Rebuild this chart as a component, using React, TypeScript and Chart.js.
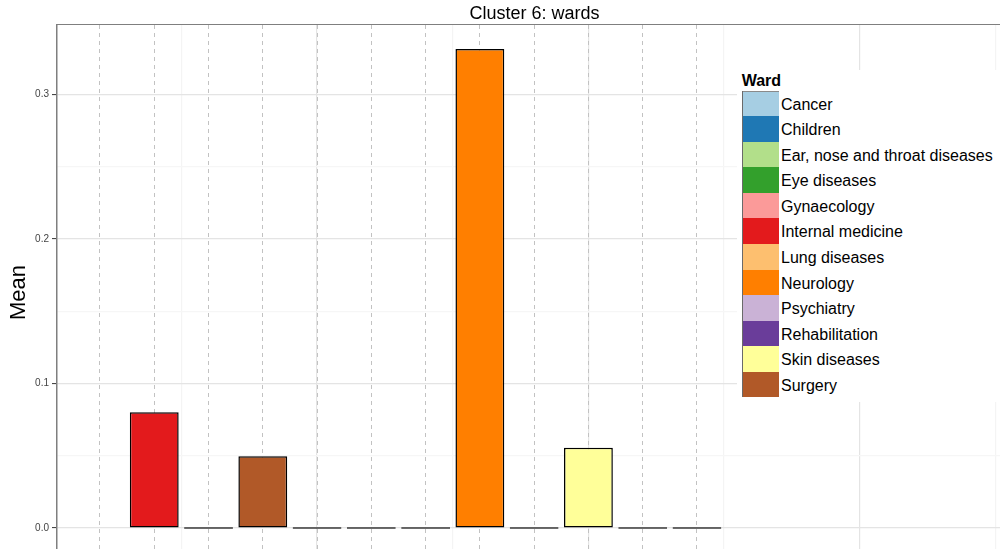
import React, { useEffect, useRef } from "react";
import { Chart, registerables } from "chart.js";

Chart.register(...registerables);

const chartTitle = "Cluster 6: wards";
const yAxisTitle = "Mean";
const legendTitle = "Ward";

const wards = [
  "Cancer",
  "Children",
  "Ear, nose and throat diseases",
  "Eye diseases",
  "Gynaecology",
  "Internal medicine",
  "Lung diseases",
  "Neurology",
  "Psychiatry",
  "Rehabilitation",
  "Skin diseases",
  "Surgery",
];
const wardColors = [
  "#A6CEE3",
  "#1F78B4",
  "#B2DF8A",
  "#33A02C",
  "#FB9A99",
  "#E31A1C",
  "#FDBF6F",
  "#FF7F00",
  "#CAB2D6",
  "#6A3D9A",
  "#FFFF99",
  "#B15928",
];

// bar positions along the x axis, the ward of each bar, and its mean
const barPositions = [1, 2, 3, 4, 5, 6, 7, 8, 9, 10, 11, 12];
const barWards = [
  "Cancer",
  "Internal medicine",
  "Children",
  "Surgery",
  "Ear, nose and throat diseases",
  "Eye diseases",
  "Gynaecology",
  "Neurology",
  "Lung diseases",
  "Skin diseases",
  "Psychiatry",
  "Rehabilitation",
];
const barMeans: (number | null)[] = [null, 0.08, 0, 0.0496, 0, 0, 0, 0.3313, 0, 0.0555, 0, 0];

const yMajorTicks = [0, 0.1, 0.2, 0.3];
const yMinorTicks = [0.05, 0.15, 0.25];
const xMajorTicks = [5, 10, 15];
const xMinorTicks = [2.5, 7.5, 12.5, 17.5];

const X_MIN = 0.208;
const X_MAX = 17.805;
const Y_MIN = -0.0221;
const Y_MAX = 0.3479;

const FONT = '"Liberation Sans", Arial, Helvetica, sans-serif';

const near = (a: number, list: number[]) => list.some((v) => Math.abs(v - a) < 1e-9);

export default function App() {
  const ref = useRef<HTMLCanvasElement | null>(null);

  useEffect(() => {
    if (!ref.current) return;
    const zeroPad = (s: any) => {
      s.paddingTop = 0;
      s.paddingBottom = 0;
      s.paddingLeft = 0;
      s.paddingRight = 0;
    };
    const chart = new Chart(ref.current, {
      type: "bar",
      data: {
        datasets: [
          {
            label: "Mean",
            data: barPositions.map((p, i) => ({ x: p, y: barMeans[i] })) as any,
            backgroundColor: barWards.map((w) => wardColors[wards.indexOf(w)]),
            borderColor: "#000000",
            borderWidth: 1.5,
            borderSkipped: false,
            minBarLength: 1.5,
            barPercentage: 0.9,
            categoryPercentage: 1,
            xAxisID: "x",
            yAxisID: "y",
          },
        ],
      },
      options: {
        responsive: false,
        animation: false,
        devicePixelRatio: 1,
        layout: { padding: 0 },
        plugins: {
          legend: { display: false },
          tooltip: { enabled: false },
          title: {
            display: true,
            text: chartTitle,
            fullSize: false,
            color: "#000000",
            font: { family: FONT, size: 18, weight: "normal" as any },
            padding: { top: 3.4, bottom: 0 },
          },
        },
        scales: {
          x: {
            type: "linear",
            position: "bottom",
            offset: false,
            min: X_MIN,
            max: X_MAX,
            afterBuildTicks: (s: any) => {
              s.ticks = [...xMinorTicks, ...xMajorTicks].sort((a, b) => a - b).map((v) => ({ value: v }));
            },
            afterFit: (s: any) => {
              zeroPad(s);
              s.height = 0;
            },
            ticks: { display: false },
            grid: {
              offset: false,
              drawTicks: false,
              color: (ctx: any) => (ctx.tick && near(ctx.tick.value, xMajorTicks) ? "#e4e4e4" : "#f4f4f4"),
              lineWidth: 1.2,
            },
            border: { display: false },
          },
          xv: {
            type: "linear",
            position: "top",
            offset: false,
            min: X_MIN,
            max: X_MAX,
            afterBuildTicks: (s: any) => {
              s.ticks = barPositions.map((v) => ({ value: v }));
            },
            afterFit: (s: any) => {
              zeroPad(s);
              s.height = 0;
            },
            ticks: { display: false },
            grid: { offset: false, drawTicks: false, color: "#c2c2c2", lineWidth: 1 },
            border: { display: true, color: "#7f7f7f", width: 1, dash: [4, 4] },
          },
          y: {
            type: "linear",
            position: "left",
            min: Y_MIN,
            max: Y_MAX,
            afterBuildTicks: (s: any) => {
              s.ticks = [...yMajorTicks, ...yMinorTicks].sort((a, b) => a - b).map((v) => ({ value: v }));
            },
            afterFit: (s: any) => {
              zeroPad(s);
              s.width = 57;
            },
            ticks: {
              autoSkip: false,
              color: "#444444",
              font: { family: FONT, size: 10 },
              padding: 3,
              callback: (v: any) => (near(Number(v), yMajorTicks) ? Number(v).toFixed(1) : ""),
            },
            grid: {
              color: (ctx: any) => (ctx.tick && near(ctx.tick.value, yMajorTicks) ? "#e4e4e4" : "#f6f6f6"),
              lineWidth: 1.2,
              tickColor: (ctx: any) => (ctx.tick && near(ctx.tick.value, yMajorTicks) ? "#333333" : "rgba(0,0,0,0)"),
              tickLength: 5,
              tickWidth: 1,
            },
            border: { display: true, color: "#7f7f7f", width: 1.5 },
            title: {
              display: true,
              text: yAxisTitle,
              color: "#000000",
              font: { family: FONT, size: 22 },
              padding: { top: 6, bottom: 0 },
            },
          },
        },
      } as any,
    });
    return () => chart.destroy();
  }, []);

  return (
    <div
      style={{
        position: "fixed",
        left: 0,
        top: 0,
        width: 1000,
        height: 549,
        overflow: "hidden",
        background: "#ffffff",
      }}
    >
      <canvas
        ref={ref}
        width={1012}
        height={560}
        style={{ position: "absolute", left: 0, top: 0, width: 1012, height: 560 }}
      />
      <div
        style={{
          position: "absolute",
          left: 736.7,
          top: 70,
          width: 264,
          height: 332,
          background: "#ffffff",
          fontFamily: FONT,
          color: "#000000",
        }}
      >
        <div
          style={{
            position: "absolute",
            left: 5,
            top: 2.9,
            fontSize: 16,
            fontWeight: "bold",
            lineHeight: "16px",
            whiteSpace: "nowrap",
          }}
        >
          {legendTitle}
        </div>
        <div style={{ position: "absolute", left: 5, top: 20.7 }}>
          {wards.map((w, i) => (
            <div key={w} style={{ display: "flex", height: 25.55, alignItems: "stretch" }}>
              <div
                style={{
                  width: 37.3,
                  background: wardColors[i],
                  boxShadow: "inset 1px 0 0 #6a6a6a" + (i === 0 ? ", inset 0 1px 0 #8a8a8a" : ""),
                }}
              />
              <span
                style={{
                  marginLeft: 2,
                  fontSize: 16,
                  lineHeight: "25.55px",
                  position: "relative",
                  top: 1,
                  whiteSpace: "nowrap",
                }}
              >
                {w}
              </span>
            </div>
          ))}
        </div>
      </div>
    </div>
  );
}
